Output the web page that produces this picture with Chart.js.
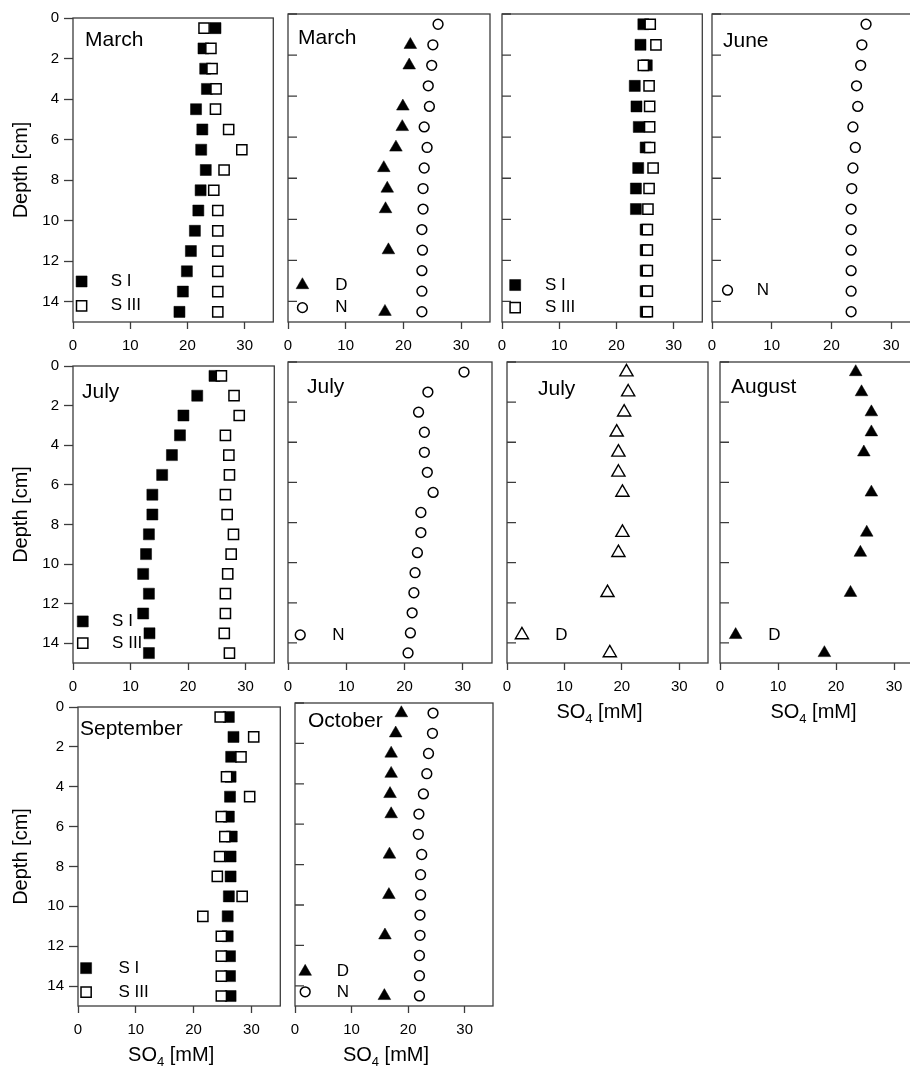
<!DOCTYPE html>
<html>
<head>
<meta charset="utf-8">
<title>SO4 depth profiles</title>
<script src="https://cdn.jsdelivr.net/npm/chart.js"></script>
<style>
  html, body { margin: 0; padding: 0; background: #fff; }
  body { width: 910px; height: 1070px; overflow: hidden; position: relative; }
  canvas { position: absolute; }
</style>
</head>
<body>
<script>
// slice depths (cm), the same for every core
const depths = [0.5, 1.5, 2.5, 3.5, 4.5, 5.5, 6.5, 7.5, 8.5, 9.5, 10.5, 11.5, 12.5, 13.5, 14.5];
const yTicks = [0, 2, 4, 6, 8, 10, 12, 14];
const xTicks = [0, 10, 20, 30];

// SO4 [mM] at each depth, null where no sample
const marchS1 = [24.9, 22.8, 23.1, 23.4, 21.5, 22.6, 22.4, 23.2, 22.3, 21.9, 21.3, 20.6, 19.9, 19.2, 18.6];
const marchS3 = [22.9, 24.1, 24.3, 25.0, 24.9, 27.2, 29.5, 26.4, 24.6, 25.3, 25.3, 25.3, 25.3, 25.3, 25.3];
const marchD = [null, 21.2, 21.0, null, 19.9, 19.8, 18.7, 16.6, 17.2, 16.9, null, 17.4, null, null, 16.8];
const marchN = [26.0, 25.1, 24.9, 24.3, 24.5, 23.6, 24.1, 23.6, 23.4, 23.4, 23.2, 23.3, 23.2, 23.2, 23.2];
const coreS1 = [24.7, 24.2, 25.3, 23.2, 23.5, 23.9, 25.1, 23.8, 23.4, 23.4, 25.1, 25.1, 25.1, 25.1, 25.1];
const coreS3 = [25.9, 26.9, 24.7, 25.7, 25.8, 25.8, 25.8, 26.4, 25.7, 25.5, 25.4, 25.4, 25.4, 25.4, 25.4];
const juneN = [25.8, 25.1, 24.9, 24.2, 24.4, 23.6, 24.0, 23.6, 23.4, 23.3, 23.3, 23.3, 23.3, 23.3, 23.3];
const julyS1 = [24.6, 21.6, 19.2, 18.6, 17.2, 15.5, 13.8, 13.8, 13.2, 12.7, 12.2, 13.2, 12.2, 13.3, 13.2];
const julyS3 = [25.8, 28.0, 28.9, 26.5, 27.1, 27.2, 26.5, 26.8, 27.9, 27.5, 26.9, 26.5, 26.5, 26.3, 27.2];
const julyN = [30.2, 24.0, 22.4, 23.4, 23.4, 23.9, 24.9, 22.8, 22.8, 22.2, 21.8, 21.6, 21.3, 21.0, 20.6];
const julyD = [20.8, 21.1, 20.4, 19.1, 19.4, 19.4, 20.1, null, 20.1, 19.4, null, 17.5, null, null, 17.9];
const augustD = [23.4, 24.4, 26.1, 26.1, 24.8, null, 26.1, null, 25.3, 24.2, null, 22.5, null, null, 18.0];
const septS1 = [26.1, 26.9, 26.5, 26.4, 26.3, 26.1, 26.6, 26.4, 26.4, 26.1, 25.9, 25.9, 26.3, 26.3, 26.4];
const septS3 = [24.6, 30.4, 28.2, 25.7, 29.7, 24.8, 25.4, 24.5, 24.1, 28.4, 21.6, 24.8, 24.8, 24.8, 24.8];
const octD = [18.8, 17.8, 17.0, 17.0, 16.8, 17.0, null, 16.7, null, 16.6, null, 15.9, null, null, 15.8];
const octN = [24.4, 24.3, 23.6, 23.3, 22.7, 21.9, 21.8, 22.4, 22.2, 22.2, 22.1, 22.1, 22.0, 22.0, 22.0];

const FONT = 'Arial, "Liberation Sans", sans-serif';
const LINE = '#3c3c3c';

const markers = {
  S1: { pointStyle: 'rect', radius: 7.8, fill: '#000', border: '#000', bw: 0.5, order: 2 },
  S3: { pointStyle: 'rect', radius: 7.2, fill: '#fff', border: '#000', bw: 1.5, order: 1 },
  N: { pointStyle: 'circle', radius: 4.9, fill: '#fff', border: '#000', bw: 1.5, order: 1 },
  D: { pointStyle: 'triangle', radius: 7.3, fill: '#000', border: '#000', bw: 0.5, order: 2 },
  Dopen: { pointStyle: 'triangle', radius: 7.6, fill: '#fff', border: '#000', bw: 1.4, order: 2 }
};

// plot box in page pixels: [left, right, top, bottom]
const panels = [
  { box: [73, 274, 14, 322], first: true, title: 'March', tx: 12, ty: 28,
    series: [['S I', 'S1', marchS1], ['S III', 'S3', marchS3]], legend: { x: 1.5, tx: 6.6, rows: [13.0, 14.2] } },
  { box: [288, 490, 14, 322], title: 'March', tx: 10, ty: 30,
    series: [['D', 'D', marchD], ['N', 'N', marchN]], legend: { x: 2.5, tx: 8.2, rows: [13.2, 14.3] } },
  { box: [502, 703, 14, 322],
    series: [['S I', 'S1', coreS1], ['S III', 'S3', coreS3]], legend: { x: 2.3, tx: 7.5, rows: [13.2, 14.3] } },
  { box: [712, 921, 14, 322], title: 'June', tx: 11, ty: 33,
    series: [['N', 'N', juneN]], legend: { x: 2.6, tx: 7.5, rows: [13.45] } },
  { box: [73, 275, 362, 663], first: true, title: 'July', tx: 9, ty: 32,
    series: [['S I', 'S1', julyS1], ['S III', 'S3', julyS3]], legend: { x: 1.7, tx: 6.8, rows: [12.9, 14.0] } },
  { box: [288, 492, 362, 663], title: 'July', tx: 19, ty: 31,
    series: [['N', 'N', julyN]], legend: { x: 2.1, tx: 7.6, rows: [13.6] } },
  { box: [507, 709, 362, 663], title: 'July', tx: 31, ty: 33, xTitle: true,
    series: [['D', 'Dopen', julyD]], legend: { x: 2.6, tx: 8.4, rows: [13.6] } },
  { box: [720, 923, 362, 663], title: 'August', tx: 11, ty: 31, xTitle: true,
    series: [['D', 'D', augustD]], legend: { x: 2.7, tx: 8.3, rows: [13.6] } },
  { box: [78, 281, 703, 1006], first: true, title: 'September', tx: 2, ty: 28, xTitle: true,
    series: [['S I', 'S1', septS1], ['S III', 'S3', septS3]], legend: { x: 1.4, tx: 7.0, rows: [13.1, 14.3] } },
  { box: [295, 493, 703, 1006], title: 'October', tx: 13, ty: 24, xTitle: true,
    series: [['D', 'D', octD], ['N', 'N', octN]], legend: { x: 1.8, tx: 7.4, rows: [13.3, 14.3] } }
];

const PAD_T = 10, PAD_R = 8, X_H = 75;

function points(values) {
  const pts = [];
  values.forEach((v, i) => { if (v !== null) pts.push({ x: v, y: depths[i] }); });
  return pts;
}

function drawMarker(ctx, m, x, y) {
  ctx.save();
  ctx.fillStyle = m.fill;
  ctx.strokeStyle = m.border;
  ctx.lineWidth = m.bw;
  Chart.helpers.drawPoint(ctx, { pointStyle: m.pointStyle, radius: m.radius, rotation: 0, borderWidth: m.bw }, x, y);
  ctx.restore();
}

// "SO4 [mM]" with a lowered 4
function drawUnitTitle(ctx, cx, baseline) {
  ctx.save();
  ctx.fillStyle = '#000';
  ctx.textBaseline = 'alphabetic';
  ctx.textAlign = 'left';
  ctx.font = '20px ' + FONT;
  const wa = ctx.measureText('SO').width;
  const wc = ctx.measureText(' [mM]').width;
  ctx.font = '13px ' + FONT;
  const wb = ctx.measureText('4').width;
  let x = cx - (wa + wb + wc) / 2;
  ctx.font = '20px ' + FONT;
  ctx.fillText('SO', x, baseline);
  ctx.font = '13px ' + FONT;
  ctx.fillText('4', x + wa, baseline + 5);
  ctx.font = '20px ' + FONT;
  ctx.fillText(' [mM]', x + wa + wb, baseline);
  ctx.restore();
}

function decor(p) {
  return {
    id: 'decor',
    beforeDatasetsDraw(chart) {
      const { ctx, chartArea: a, scales } = chart;
      ctx.save();
      ctx.strokeStyle = LINE;
      ctx.lineWidth = 1.3;
      ctx.strokeRect(a.left, a.top, a.right - a.left, a.bottom - a.top);
      if (!p.first) {
        // inner ticks on the depth axis
        ctx.beginPath();
        yTicks.forEach(t => {
          const py = scales.y.getPixelForValue(t);
          ctx.moveTo(a.left, py);
          ctx.lineTo(a.left + 9, py);
        });
        ctx.stroke();
      }
      ctx.restore();
    },
    afterDatasetsDraw(chart) {
      const { ctx, chartArea: a, scales } = chart;
      ctx.save();
      ctx.fillStyle = '#000';
      if (p.title) {
        ctx.font = '21px ' + FONT;
        ctx.textAlign = 'left';
        ctx.textBaseline = 'alphabetic';
        ctx.fillText(p.title, a.left + p.tx, a.top + p.ty);
      }
      p.series.forEach((s, i) => {
        const y = scales.y.getPixelForValue(p.legend.rows[i]);
        drawMarker(ctx, markers[s[1]], scales.x.getPixelForValue(p.legend.x), y);
        ctx.fillStyle = '#000';
        ctx.font = '17px ' + FONT;
        ctx.textAlign = 'left';
        ctx.textBaseline = 'middle';
        ctx.fillText(s[0], scales.x.getPixelForValue(p.legend.tx), y);
      });
      ctx.restore();
      if (p.xTitle) drawUnitTitle(ctx, (a.left + a.right) / 2 - 8, a.bottom + 55);
    }
  };
}

panels.forEach(p => {
  const [left, right, top, bottom] = p.box;
  const yW = p.first ? left : 20;
  const canvas = document.createElement('canvas');
  canvas.width = right - left + yW + PAD_R;
  canvas.height = bottom - top + PAD_T + X_H;
  canvas.style.left = (left - yW) + 'px';
  canvas.style.top = (top - PAD_T) + 'px';
  document.body.appendChild(canvas);

  new Chart(canvas, {
    type: 'scatter',
    data: {
      datasets: p.series.map(s => {
        const m = markers[s[1]];
        return {
          label: s[0],
          data: points(s[2]),
          order: m.order,
          pointStyle: m.pointStyle,
          pointRadius: m.radius,
          pointHoverRadius: m.radius,
          pointBackgroundColor: m.fill,
          pointBorderColor: m.border,
          pointBorderWidth: m.bw,
          showLine: false
        };
      })
    },
    options: {
      responsive: false,
      devicePixelRatio: 1,
      animation: false,
      events: [],
      layout: { padding: { top: PAD_T, right: PAD_R, left: 0, bottom: 0 } },
      plugins: { legend: { display: false }, tooltip: { enabled: false } },
      scales: {
        x: {
          type: 'linear', min: 0, max: 35,
          afterBuildTicks: s => { s.ticks = xTicks.map(v => ({ value: v })); },
          afterFit: s => { s.height = X_H; s.paddingLeft = 0; s.paddingRight = 0; },
          border: { display: false },
          grid: { drawOnChartArea: false, drawTicks: true, tickLength: 7, tickColor: LINE, tickWidth: 1.3 },
          ticks: { color: '#000', font: { family: FONT, size: 15 }, padding: 8, maxRotation: 0, autoSkip: false }
        },
        y: {
          type: 'linear', reverse: true, min: 0, max: 15,
          afterBuildTicks: s => { s.ticks = yTicks.map(v => ({ value: v })); },
          afterFit: s => { s.width = yW; },
          border: { display: false },
          grid: { drawOnChartArea: false, drawTicks: !!p.first, tickLength: 9, tickColor: LINE, tickWidth: 1.3 },
          ticks: { display: !!p.first, color: '#000', font: { family: FONT, size: 15 }, padding: 5, autoSkip: false },
          title: { display: !!p.first, text: 'Depth [cm]', color: '#000', font: { family: FONT, size: 20 }, padding: { top: 9, bottom: 0 } }
        }
      }
    },
    plugins: [decor(p)]
  });
});
</script>
</body>
</html>
